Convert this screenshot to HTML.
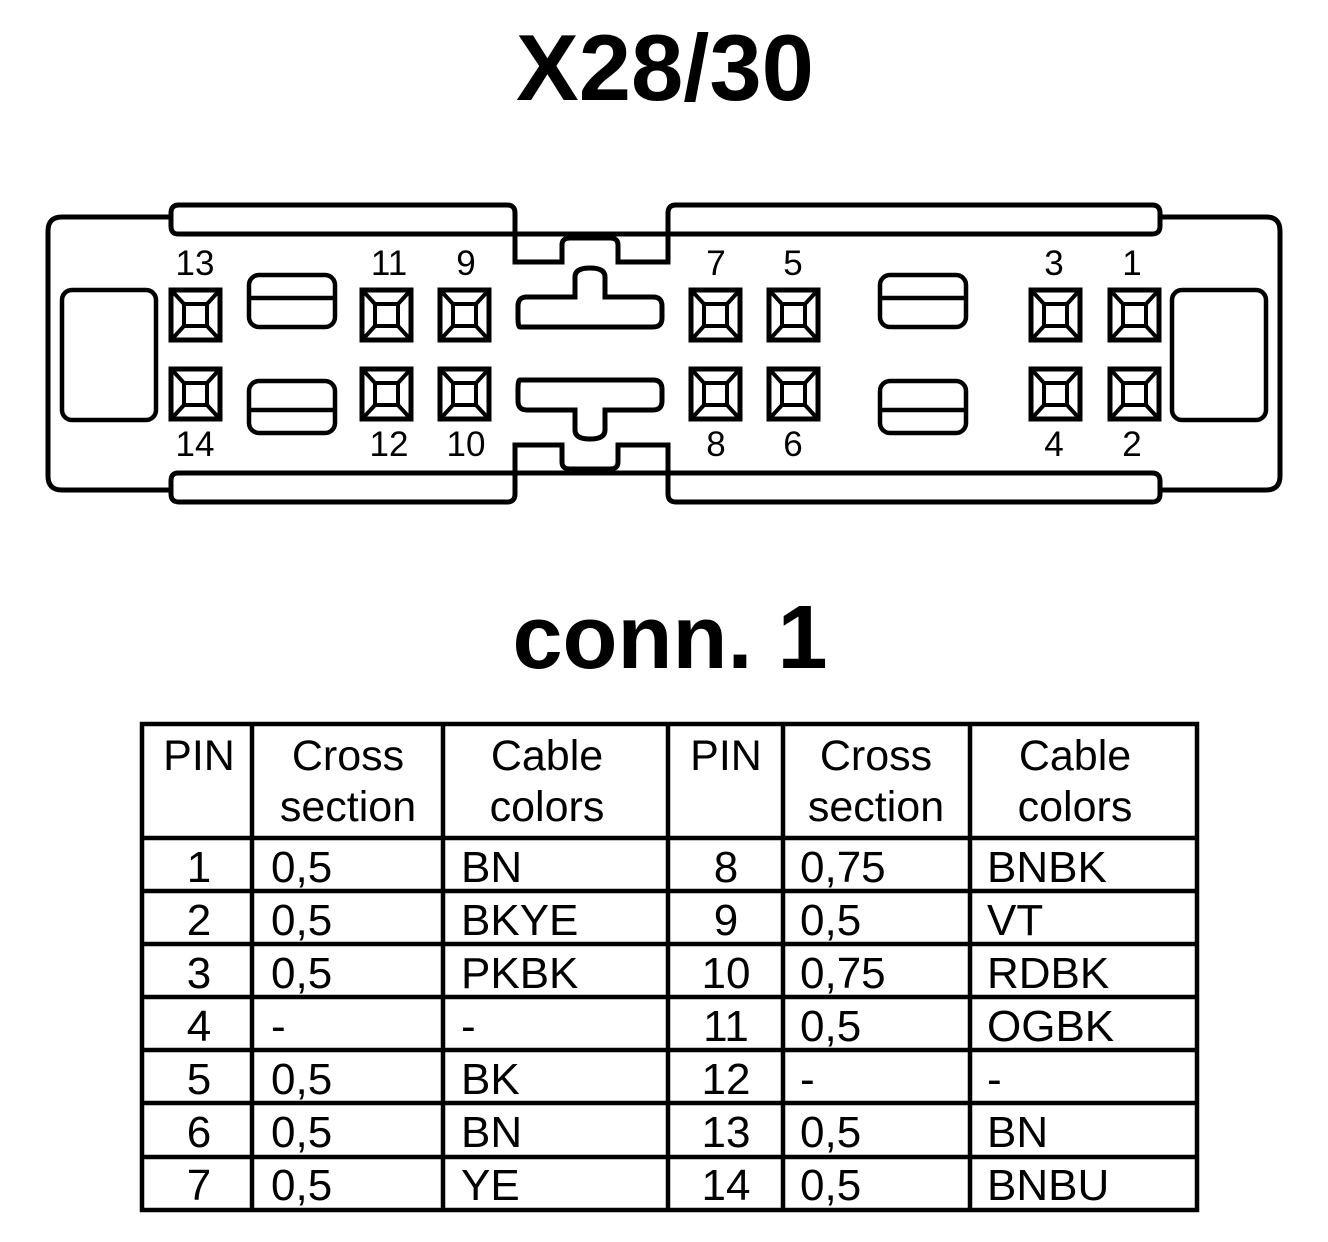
<!DOCTYPE html>
<html><head><meta charset="utf-8"><style>
html,body{margin:0;padding:0;background:#fff;}
svg{display:block;}
text{font-family:"Liberation Sans",sans-serif;fill:#000;}
</style></head><body>
<svg width="1328" height="1242" viewBox="0 0 1328 1242" xmlns="http://www.w3.org/2000/svg">
<defs>
<g id="pin">
<rect x="2" y="2" width="49" height="50" fill="none" stroke="#000" stroke-width="5"/>
<rect x="15" y="16" width="23" height="22" fill="none" stroke="#000" stroke-width="4"/>
<path d="M4,4 L15,16 M49,4 L38,16 M4,50 L15,38 M49,50 L38,38" stroke="#000" stroke-width="4"/>
</g>
<g id="slot">
<rect x="0" y="0" width="86" height="52" rx="10" fill="none" stroke="#000" stroke-width="4.5"/>
<line x1="0" y1="23" x2="86" y2="23" stroke="#000" stroke-width="4.5"/>
</g>
<g id="half" fill="none" stroke="#000" stroke-width="5">
<path d="M170,217 H62 Q48,217 48,231 V353.5"/>
<path d="M1160,217 H1266 Q1280,217 1280,231 V353.5"/>
<path d="M515,234 H178 Q171,234 171,226 V213 Q171,205 179,205 H507 Q515,205 515,213 V262 H562 V245 Q562,238 570,238 H610 Q618,238 618,245 V262 H668 V213 Q668,205 676,205 H1152 Q1160,205 1160,213 V226 Q1160,234 1152,234 H515"/>
<path d="M520,327 Q518,327 518,318 V306 Q518,297 527,297 H575 V277 Q575,268 590,268 Q605,268 605,277 V297 H653 Q662,297 662,306 V318 Q662,327 653,327 Z"/>
</g>
</defs>

<text x="665" y="100" font-size="94" font-weight="bold" text-anchor="middle">X28/30</text>

<use href="#half"/>
<use href="#half" transform="translate(0,707) scale(1,-1)"/>

<rect x="62" y="290" width="94" height="130" rx="10" fill="none" stroke="#000" stroke-width="4.5"/>
<rect x="1172" y="290" width="94" height="130" rx="10" fill="none" stroke="#000" stroke-width="4.5"/>

<use href="#slot" x="249" y="275"/>
<g transform="translate(249,433) scale(1,-1)"><use href="#slot"/></g>
<use href="#slot" x="880" y="275"/>
<g transform="translate(880,433) scale(1,-1)"><use href="#slot"/></g>

<use href="#pin" x="169" y="288"/><use href="#pin" x="169" y="367"/>
<use href="#pin" x="360" y="288"/><use href="#pin" x="360" y="367"/>
<use href="#pin" x="438" y="288"/><use href="#pin" x="438" y="367"/>
<use href="#pin" x="689" y="288"/><use href="#pin" x="689" y="367"/>
<use href="#pin" x="767" y="288"/><use href="#pin" x="767" y="367"/>
<use href="#pin" x="1029" y="288"/><use href="#pin" x="1029" y="367"/>
<use href="#pin" x="1108" y="288"/><use href="#pin" x="1108" y="367"/>

<g font-size="35" text-anchor="middle">
<text x="195" y="275">13</text><text x="195" y="456">14</text>
<text x="389" y="275">11</text><text x="389" y="456">12</text>
<text x="466" y="275">9</text><text x="466" y="456">10</text>
<text x="716" y="275">7</text><text x="716" y="456">8</text>
<text x="793" y="275">5</text><text x="793" y="456">6</text>
<text x="1054" y="275">3</text><text x="1054" y="456">4</text>
<text x="1132" y="275">1</text><text x="1132" y="456">2</text>
</g>

<text x="670" y="668" font-size="90" font-weight="bold" text-anchor="middle">conn. 1</text>

<g stroke="#000" stroke-width="4.5" fill="none">
<rect x="142" y="724" width="1055" height="486"/>
<line x1="252" y1="724" x2="252" y2="1210"/>
<line x1="443" y1="724" x2="443" y2="1210"/>
<line x1="668" y1="724" x2="668" y2="1210"/>
<line x1="783" y1="724" x2="783" y2="1210"/>
<line x1="970" y1="724" x2="970" y2="1210"/>
<line x1="142" y1="838" x2="1197" y2="838"/>
<line x1="142" y1="891" x2="1197" y2="891"/>
<line x1="142" y1="944" x2="1197" y2="944"/>
<line x1="142" y1="997" x2="1197" y2="997"/>
<line x1="142" y1="1050" x2="1197" y2="1050"/>
<line x1="142" y1="1103" x2="1197" y2="1103"/>
<line x1="142" y1="1157" x2="1197" y2="1157"/>
</g>

<g font-size="43">
<text x="199" y="770" text-anchor="middle">PIN</text>
<text x="348" y="770" text-anchor="middle">Cross</text>
<text x="348" y="821" text-anchor="middle">section</text>
<text x="547" y="770" text-anchor="middle">Cable</text>
<text x="547" y="821" text-anchor="middle">colors</text>
<text x="726" y="770" text-anchor="middle">PIN</text>
<text x="876" y="770" text-anchor="middle">Cross</text>
<text x="876" y="821" text-anchor="middle">section</text>
<text x="1075" y="770" text-anchor="middle">Cable</text>
<text x="1075" y="821" text-anchor="middle">colors</text>
</g>

<g font-size="44">
<g text-anchor="middle">
<text x="199" y="882">1</text><text x="199" y="935">2</text><text x="199" y="988">3</text><text x="199" y="1041">4</text><text x="199" y="1094">5</text><text x="199" y="1147">6</text><text x="199" y="1200">7</text>
<text x="726" y="882">8</text><text x="726" y="935">9</text><text x="726" y="988">10</text><text x="726" y="1041">11</text><text x="726" y="1094">12</text><text x="726" y="1147">13</text><text x="726" y="1200">14</text>
</g>
<text x="271" y="882">0,5</text><text x="271" y="935">0,5</text><text x="271" y="988">0,5</text><text x="271" y="1041">-</text><text x="271" y="1094">0,5</text><text x="271" y="1147">0,5</text><text x="271" y="1200">0,5</text>
<text x="461" y="882">BN</text><text x="461" y="935">BKYE</text><text x="461" y="988">PKBK</text><text x="461" y="1041">-</text><text x="461" y="1094">BK</text><text x="461" y="1147">BN</text><text x="461" y="1200">YE</text>
<text x="800" y="882">0,75</text><text x="800" y="935">0,5</text><text x="800" y="988">0,75</text><text x="800" y="1041">0,5</text><text x="800" y="1094">-</text><text x="800" y="1147">0,5</text><text x="800" y="1200">0,5</text>
<text x="987" y="882">BNBK</text><text x="987" y="935">VT</text><text x="987" y="988">RDBK</text><text x="987" y="1041">OGBK</text><text x="987" y="1094">-</text><text x="987" y="1147">BN</text><text x="987" y="1200">BNBU</text>
</g>
</svg>
</body></html>
